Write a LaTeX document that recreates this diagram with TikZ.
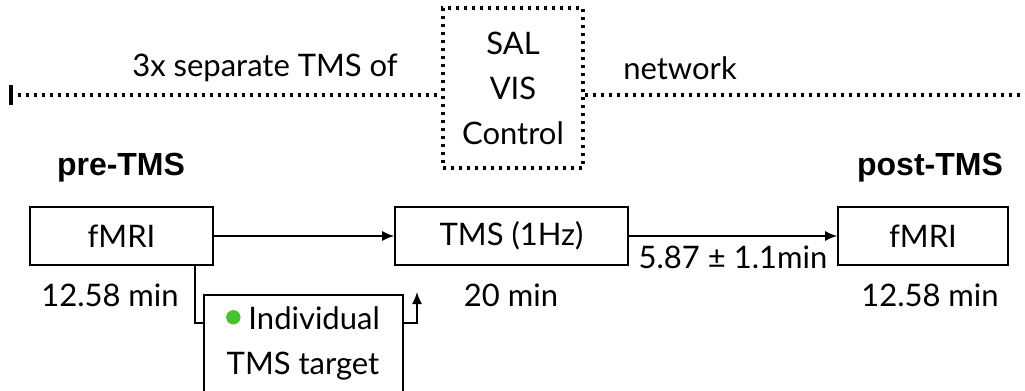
\documentclass[tikz,border=0pt]{standalone}
\usepackage{fontspec}
\setmainfont{Lato}
\newfontfamily\boldfont{Liberation Sans}
\usetikzlibrary{arrows.meta}
\definecolor{dotgreen}{RGB}{74,193,47}
\tikzset{
	box/.style = {draw, thick, minimum width=#1, minimum height=29pt, inner sep=0pt},
	txt/.style = {font=\fontsize{15.5}{22.5}\selectfont},
	hdr/.style = {font=\boldfont\bfseries\fontsize{16}{19}\selectfont},
	dots/.style = {line width=1.6pt, dash pattern=on 1.6pt off 2.4pt},
	arr/.style = {thick, -{Latex[length=6pt,width=5pt]}}
}
\begin{document}
\begin{tikzpicture}[x=0.5pt, y=-0.5pt]
	\useasboundingbox (0,0) rectangle (1025,391);
	% networks
	\node[dots, draw, minimum width=70pt, minimum height=80pt, inner sep=0pt,
		txt, align=center] (net) at (513,88) {SAL\\VIS\\Control};
	\coordinate (lend) at (10,95);
	\coordinate (rend) at (1025,95);
	\draw[dots] (lend) -- (lend -| net.west);
	\draw[line width=2pt] (11,85) -- (11,105);
	\draw[dots] (rend -| net.east) -- (rend);
	\node[txt] (sep) at (265,68) {3x separate TMS of};
	\node[txt] (nw) at (680,68) {network};
	
	% sessions
	\node[hdr] (pre) at (121,168) {pre-TMS};
	\node[hdr] (post) at (930,168) {post-TMS};
	\node[box=91.5pt, txt] (fmri1) at (121.5,236) {fMRI};
	\node[box=116.5pt, txt] (tms) at (511.5,236) {TMS (1Hz)};
	\node[box=85pt, txt] (fmri2) at (923,236) {fMRI};
	\node[txt] (t1) at (110,295) {12.58 min};
	\node[txt] (t2) at (511,295) {20 min};
	\node[txt] (t3) at (930,295) {12.58 min};
	
	\draw[arr] (fmri1) -- (tms);
	\draw[arr] (tms) -- (fmri2) node[midway, below=1pt, txt]{5.87 ± 1.1min};
	
	% target
	\node[box=99.5pt, minimum height=60pt, anchor=north west] (tgt) at (203,294) {};
	\node[txt, align=center] (tgttxt) at (303,343)
		{\tikz[baseline=-0.75ex]\fill[dotgreen] (0,0) circle (3.6pt);\ Individual\\TMS target};
	\coordinate (up) at (417,292);
	\draw[thick] (fmri1.south -| 195,0) |- (tgt.west |- 0,323);
	\draw[arr] (tgt.east |- 0,323) -| (up);
\end{tikzpicture}
\end{document}
